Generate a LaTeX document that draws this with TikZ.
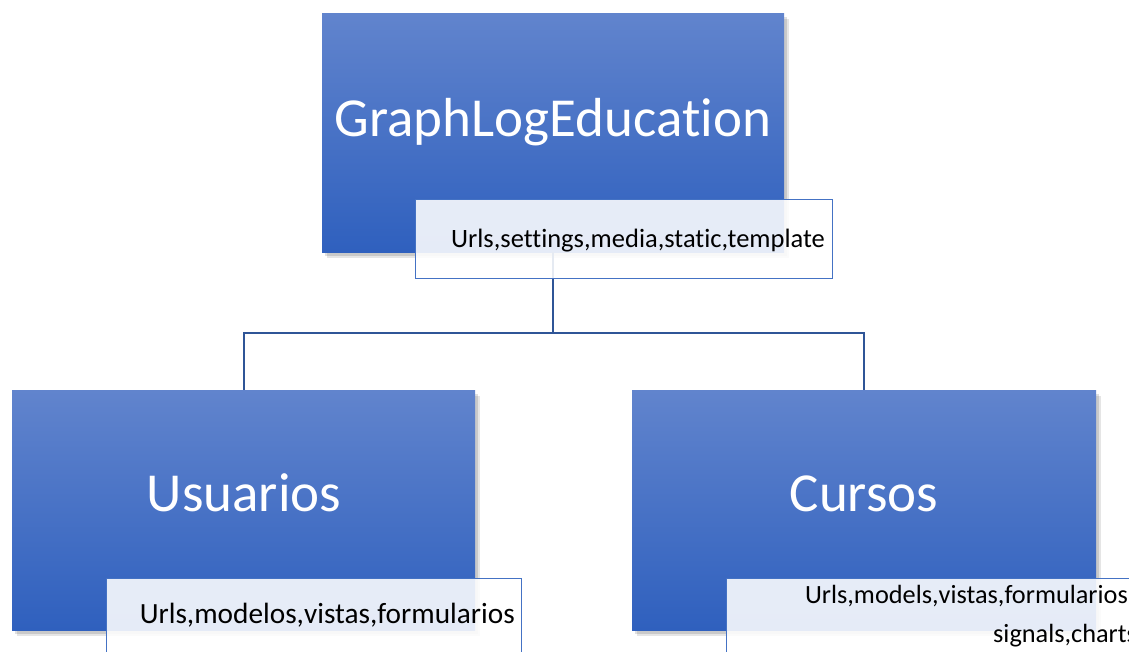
\documentclass[tikz,border=0pt]{standalone}
\usepackage{fontspec}
\setmainfont{Carlito}[Ligatures=NoCommon]

\definecolor{boxtop}{RGB}{97,132,205}
\definecolor{boxbot}{RGB}{47,96,190}
\definecolor{tagline}{RGB}{68,114,196}
\definecolor{linkcol}{RGB}{47,85,151}

\tikzset{
  bluebox/.style={rectangle, inner sep=0pt, anchor=north west,
    preaction={fill=black, fill opacity=0.10, transform canvas={xshift=5pt, yshift=-6pt}},
    preaction={fill=black, fill opacity=0.12, transform canvas={xshift=3pt, yshift=-4pt}},
    top color=boxtop, bottom color=boxbot},
  tagbox/.style={rectangle, inner sep=0pt, anchor=north west,
    draw=tagline, line width=1.1pt, fill=white, fill opacity=0.88},
  bigtext/.style={text=white, inner sep=0pt, anchor=base,
    font=\fontsize{55}{60}\selectfont},
  smalltext/.style={text=black, inner sep=0pt,
    font=\fontsize{26.5}{30}\selectfont},
  link/.style={draw=linkcol, line width=2pt}
}

\begin{document}
\begin{tikzpicture}[x=1pt,y=-1pt]
\useasboundingbox (0,0) rectangle (1129,652);
\clip (0,0) rectangle (1129,652);
\fill[white] (0,0) rectangle (1129,652);

% main blocks
\node[bluebox, minimum width=462pt, minimum height=239pt] (root) at (322,13) {};
\node[bluebox, minimum width=463pt, minimum height=240pt] (usr) at (12,390) {};
\node[bluebox, minimum width=464pt, minimum height=240pt] (cur) at (632,390) {};

% tree connectors
\draw[link] (root.south) -- ++(0,81) coordinate (fork) -| (usr.north);
\draw[link] (fork) -| (cur.north);

% block titles
\node[bigtext] (rootname) at (553,137) {GraphLogEducation};
\node[bigtext] (usrname) at (244,511) {Usuarios};
\node[bigtext] (curname) at (864,511) {Cursos};

% module tags
\node[tagbox, minimum width=417pt, minimum height=79pt] (roottag) at (415,199) {};
\node[tagbox, minimum width=415pt, minimum height=90pt] (usrtag) at (106,578) {};
\node[tagbox, minimum width=420pt, minimum height=90pt] (curtag) at (726,578) {};

\node[smalltext, anchor=base east] (roottxt) at (825,248) {Urls,settings,media,static,template};
\node[smalltext, anchor=base east, font=\fontsize{29.3}{32}\selectfont] (usrtxt) at (515,623) {Urls,modelos,vistas,formularios};
\node[smalltext, anchor=base east, font=\fontsize{26.3}{30}\selectfont] (curtxtA) at (1128,603) {Urls,models,vistas,formularios};
\node[smalltext, anchor=base west, font=\fontsize{26.3}{30}\selectfont] (curtxtB) at (993,642) {signals,charts};
\end{tikzpicture}
\end{document}
